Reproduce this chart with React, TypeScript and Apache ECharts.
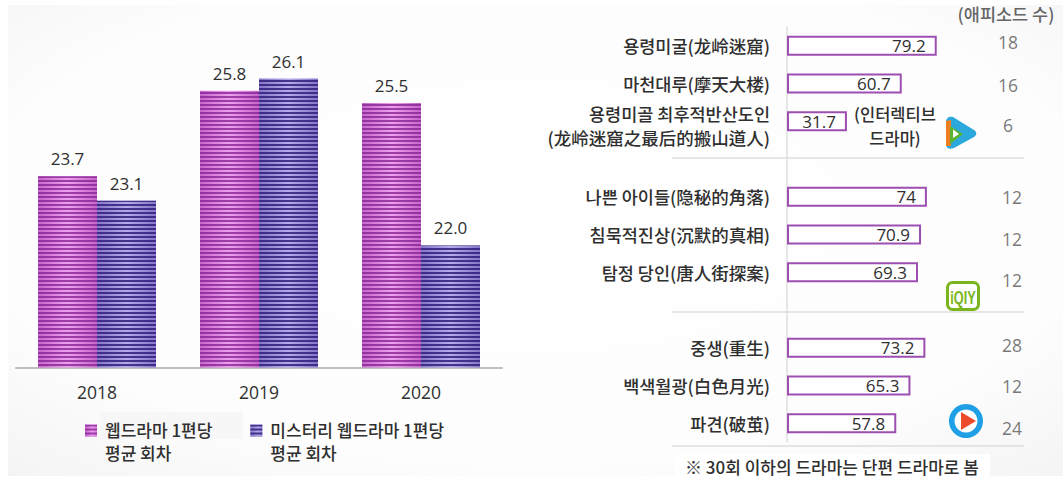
import React, { useEffect, useRef } from "react";
import * as echarts from "echarts";

const years = ["2018", "2019", "2020"];
const webDramaName = "웹드라마 1편당\n평균 회차";
const mysteryName = "미스터리 웹드라마 1편당\n평균 회차";
const webDramaEpisodes = [23.7, 25.8, 25.5];
const mysteryEpisodes = [23.1, 26.1, 22.0];

// Blank entries leave a slot for the rule between platform groups.
const titles = [
  "용령미굴(龙岭迷窟)",
  "마천대루(摩天大楼)",
  "용령미골 최후적반산도인\n(龙岭迷窟之最后的搬山道人)",
  "",
  "나쁜 아이들(隐秘的角落)",
  "침묵적진상(沉默的真相)",
  "탐정 당인(唐人街探案)",
  "",
  "중생(重生)",
  "백색월광(白色月光)",
  "파견(破茧)",
];
const scores = [79.2, 60.7, 31.7, null, 74, 70.9, 69.3, null, 73.2, 65.3, 57.8];
const episodeCounts = [18, 16, 6, null, 12, 12, 12, null, 28, 12, 24];
const episodeNudgeY = [-4, 1, 4, 0, 0, 4, 8, 0, -3, 1, 5];
const episodeNudgeX = [-2, -2, -2, 0, 2, 2, 2, 0, 2, 2, 2];

const FONT = '"Noto Sans CJK KR", sans-serif';
const NUM_FONT = '"Open Sans", "Noto Sans CJK KR", sans-serif';
const INK = "#2f2f2f";
const GREY = "#555555";
const RULE = "#dedede";
const BORDER = "#9c4fb0";

// Legend swatch: a square at the top of a box as tall as the two-line name,
// so it lines up with the first line. The empty second subpath sets the box.
const LEGEND_ICON = "path://M0 0H12V12H0Z M15 33L15 33";

const stripes = (color: string) => ({
  symbol: "rect",
  symbolSize: 1,
  color,
  rotation: 0,
  dashArrayX: [1, 0],
  dashArrayY: [2, 2],
});

const sideGradient = (edge: string, mid: string) => ({
  type: "linear",
  x: 0,
  y: 0,
  x2: 1,
  y2: 0,
  colorStops: [
    { offset: 0, color: edge },
    { offset: 0.5, color: mid },
    { offset: 1, color: edge },
  ],
});

echarts.graphic.registerShape(
  "tencentBody",
  echarts.graphic.extendPath(
    "M1 5C1 1 4 -1 8 0L29 13C32 15 32 18 29 20L9 31C4 33 1 31 1 27Z",
    {}
  )
);

const rule = (y: number) => ({
  type: "line",
  shape: { x1: 672, y1: y, x2: 1024, y2: y },
  style: { stroke: RULE, lineWidth: 1.5 },
});

const note = (text: string, x: number, y: number, size: number, fill: string, align = "left", lineHeight = 24) => ({
  type: "text",
  x,
  y,
  style: { text, fill, align, verticalAlign: "middle", font: `500 ${size}px ${FONT}`, lineHeight },
});

const barLabel = {
  show: true,
  position: "top",
  distance: 9,
  color: INK,
  fontSize: 17,
  fontFamily: NUM_FONT,
  formatter: (p: any) => p.value.toFixed(1),
};

const titleStyle = { color: INK, fontSize: 17.5, fontWeight: 500, lineHeight: 24, fontFamily: FONT };

const option = {
  animation: false,
  backgroundColor: "transparent",
  textStyle: { fontFamily: FONT },
  legend: {
    left: 80,
    top: 413,
    itemWidth: 15,
    itemHeight: 33,
    itemGap: 38,
    icon: LEGEND_ICON,
    selectedMode: false,
    data: [webDramaName, mysteryName],
    textStyle: {
      fontFamily: FONT,
      fontSize: 17,
      fontWeight: 500,
      lineHeight: 23,
      color: INK,
    },
  },
  grid: [
    { left: 16, top: 41.9, width: 486, height: 325.6 },
    { left: 787, top: 27, width: 276, height: 415 },
  ],
  xAxis: [
    {
      type: "category",
      gridIndex: 0,
      data: years,
      axisTick: { show: false },
      axisLine: { lineStyle: { color: "#bfbfbf", width: 2 } },
      axisLabel: { color: INK, fontSize: 17.5, fontFamily: NUM_FONT, margin: 16 },
    },
    { type: "value", gridIndex: 1, min: 0, max: 146, show: false },
  ],
  yAxis: [
    { type: "value", gridIndex: 0, min: 19, max: 27, show: false },
    {
      type: "category",
      gridIndex: 1,
      inverse: true,
      data: titles,
      axisTick: { show: false },
      axisLine: { lineStyle: { color: RULE, width: 1.5 } },
      axisLabel: {
        ...titleStyle,
        margin: 17,
        align: "right",
        interval: 0,
        // The two-line title sits a little below its bar's centre.
        formatter: (value: string) =>
          value.includes("\n")
            ? "{gap| }\n" + value.split("\n").map((line) => `{t|${line}}`).join("\n")
            : value,
        rich: {
          gap: { fontSize: 1, lineHeight: 8 },
          t: titleStyle,
        },
      },
    },
  ],
  series: [
    {
      name: webDramaName,
      type: "bar",
      xAxisIndex: 0,
      yAxisIndex: 0,
      barWidth: 59,
      barGap: 0,
      data: webDramaEpisodes,
      itemStyle: { color: sideGradient("#c667cb", "#ee9fee"), decal: stripes("rgba(130,30,145,0.75)") },
      label: barLabel,
    },
    {
      name: mysteryName,
      type: "bar",
      xAxisIndex: 0,
      yAxisIndex: 0,
      barWidth: 59,
      barGap: 0,
      data: mysteryEpisodes,
      itemStyle: { color: sideGradient("#8676c8", "#b5aaea"), decal: stripes("rgba(50,30,125,0.85)") },
      label: barLabel,
    },
    {
      type: "bar",
      xAxisIndex: 1,
      yAxisIndex: 1,
      barWidth: 20,
      data: scores,
      itemStyle: { color: "#ffffff", borderColor: BORDER, borderWidth: 2 },
      label: {
        show: true,
        position: "insideRight",
        distance: 11,
        color: INK,
        fontSize: 17,
        fontFamily: NUM_FONT,
      },
    },
    {
      // Episode counts sit in a column to the right of the bars.
      type: "scatter",
      xAxisIndex: 1,
      yAxisIndex: 1,
      symbolSize: 0,
      silent: true,
      data: episodeCounts.map((count, i) =>
        count === null
          ? null
          : {
              value: [118, i],
              count,
              label: { offset: [episodeNudgeX[i], episodeNudgeY[i]] },
            }
      ),
      label: {
        show: true,
        position: "inside",
        color: GREY,
        fontSize: 17.5,
        fontFamily: NUM_FONT,
        formatter: (p: any) => String(p.data.count),
      },
    },
  ],
  graphic: [
    {
      type: "rect",
      silent: true,
      z: -10,
      shape: { x: 8, y: 5, width: 1055, height: 471 },
      style: {
        fill: {
          type: "radial",
          x: 0.5,
          y: 0.45,
          r: 0.75,
          colorStops: [
            { offset: 0, color: "#ffffff" },
            { offset: 0.7, color: "#fdfdfd" },
            { offset: 1, color: "#f4f4f4" },
          ],
        },
      },
    },
    { type: "rect", silent: true, z: -9, shape: { x: 100, y: 412, width: 143, height: 27 }, style: { fill: "#f7f7f7" } },
    { type: "rect", silent: true, z: -9, shape: { x: 675, y: 454, width: 315, height: 24 }, style: { fill: "#ffffff" } },
    rule(158),
    rule(312),
    rule(446),
    note("(애피소드 수)", 1006, 13, 17.5, "#666666", "center"),
    note("(인터렉티브\n드라마)", 895, 126, 16.5, INK, "center"),
    note("※ 30회 이하의 드라마는 단편 드라마로 봄", 685, 466, 17, INK, "left", 18),
    // Tencent Video mark
    {
      type: "group",
      x: 945,
      y: 117,
      children: [
        { type: "tencentBody", style: { fill: "#2ca8dc" } },
        { type: "polygon", shape: { points: [[1, 4], [6, 3], [6, 29], [1, 29]] }, style: { fill: "#ef7d22" } },
        { type: "polygon", shape: { points: [[5, 9], [18, 17], [5, 27]] }, style: { fill: "#5cb531" } },
        { type: "polygon", shape: { points: [[8, 12.5], [14, 17], [8, 21]] }, style: { fill: "#ffffff" } },
      ],
    },
    // iQIYI mark
    {
      type: "group",
      x: 946,
      y: 281,
      children: [
        { type: "rect", shape: { x: 1.5, y: 1.5, width: 31, height: 27, r: 5 }, style: { fill: "#ffffff", stroke: "#7ab51d", lineWidth: 3 } },
        {
          type: "text",
          x: 17,
          y: 15.5,
          scaleX: 0.85,
          scaleY: 1.25,
          originX: 0,
          originY: 0,
          style: { text: "iQIY", fill: "#7ab51d", align: "center", verticalAlign: "middle", font: `bold 15px "Liberation Sans", sans-serif` },
        },
      ],
    },
    // Youku mark
    {
      type: "group",
      x: 966,
      y: 421,
      children: [
        { type: "circle", shape: { cx: 0, cy: 0, r: 17 }, style: { fill: "#1f9fe6" } },
        { type: "circle", shape: { cx: 0, cy: 0, r: 11.5 }, style: { fill: "#ffffff" } },
        { type: "polygon", shape: { points: [[-5, -9], [10, 0], [-5, 9]] }, style: { fill: "#ee4a2c" } },
      ],
    },
  ],
};

export default function App() {
  const ref = useRef<HTMLDivElement>(null);
  useEffect(() => {
    const chart = echarts.init(ref.current, undefined, { renderer: "svg" });
    chart.setOption(option as any);
    return () => chart.dispose();
  }, []);
  return <div ref={ref} style={{ position: "absolute", left: 0, top: 0, width: 1063, height: 478 }} />;
}
